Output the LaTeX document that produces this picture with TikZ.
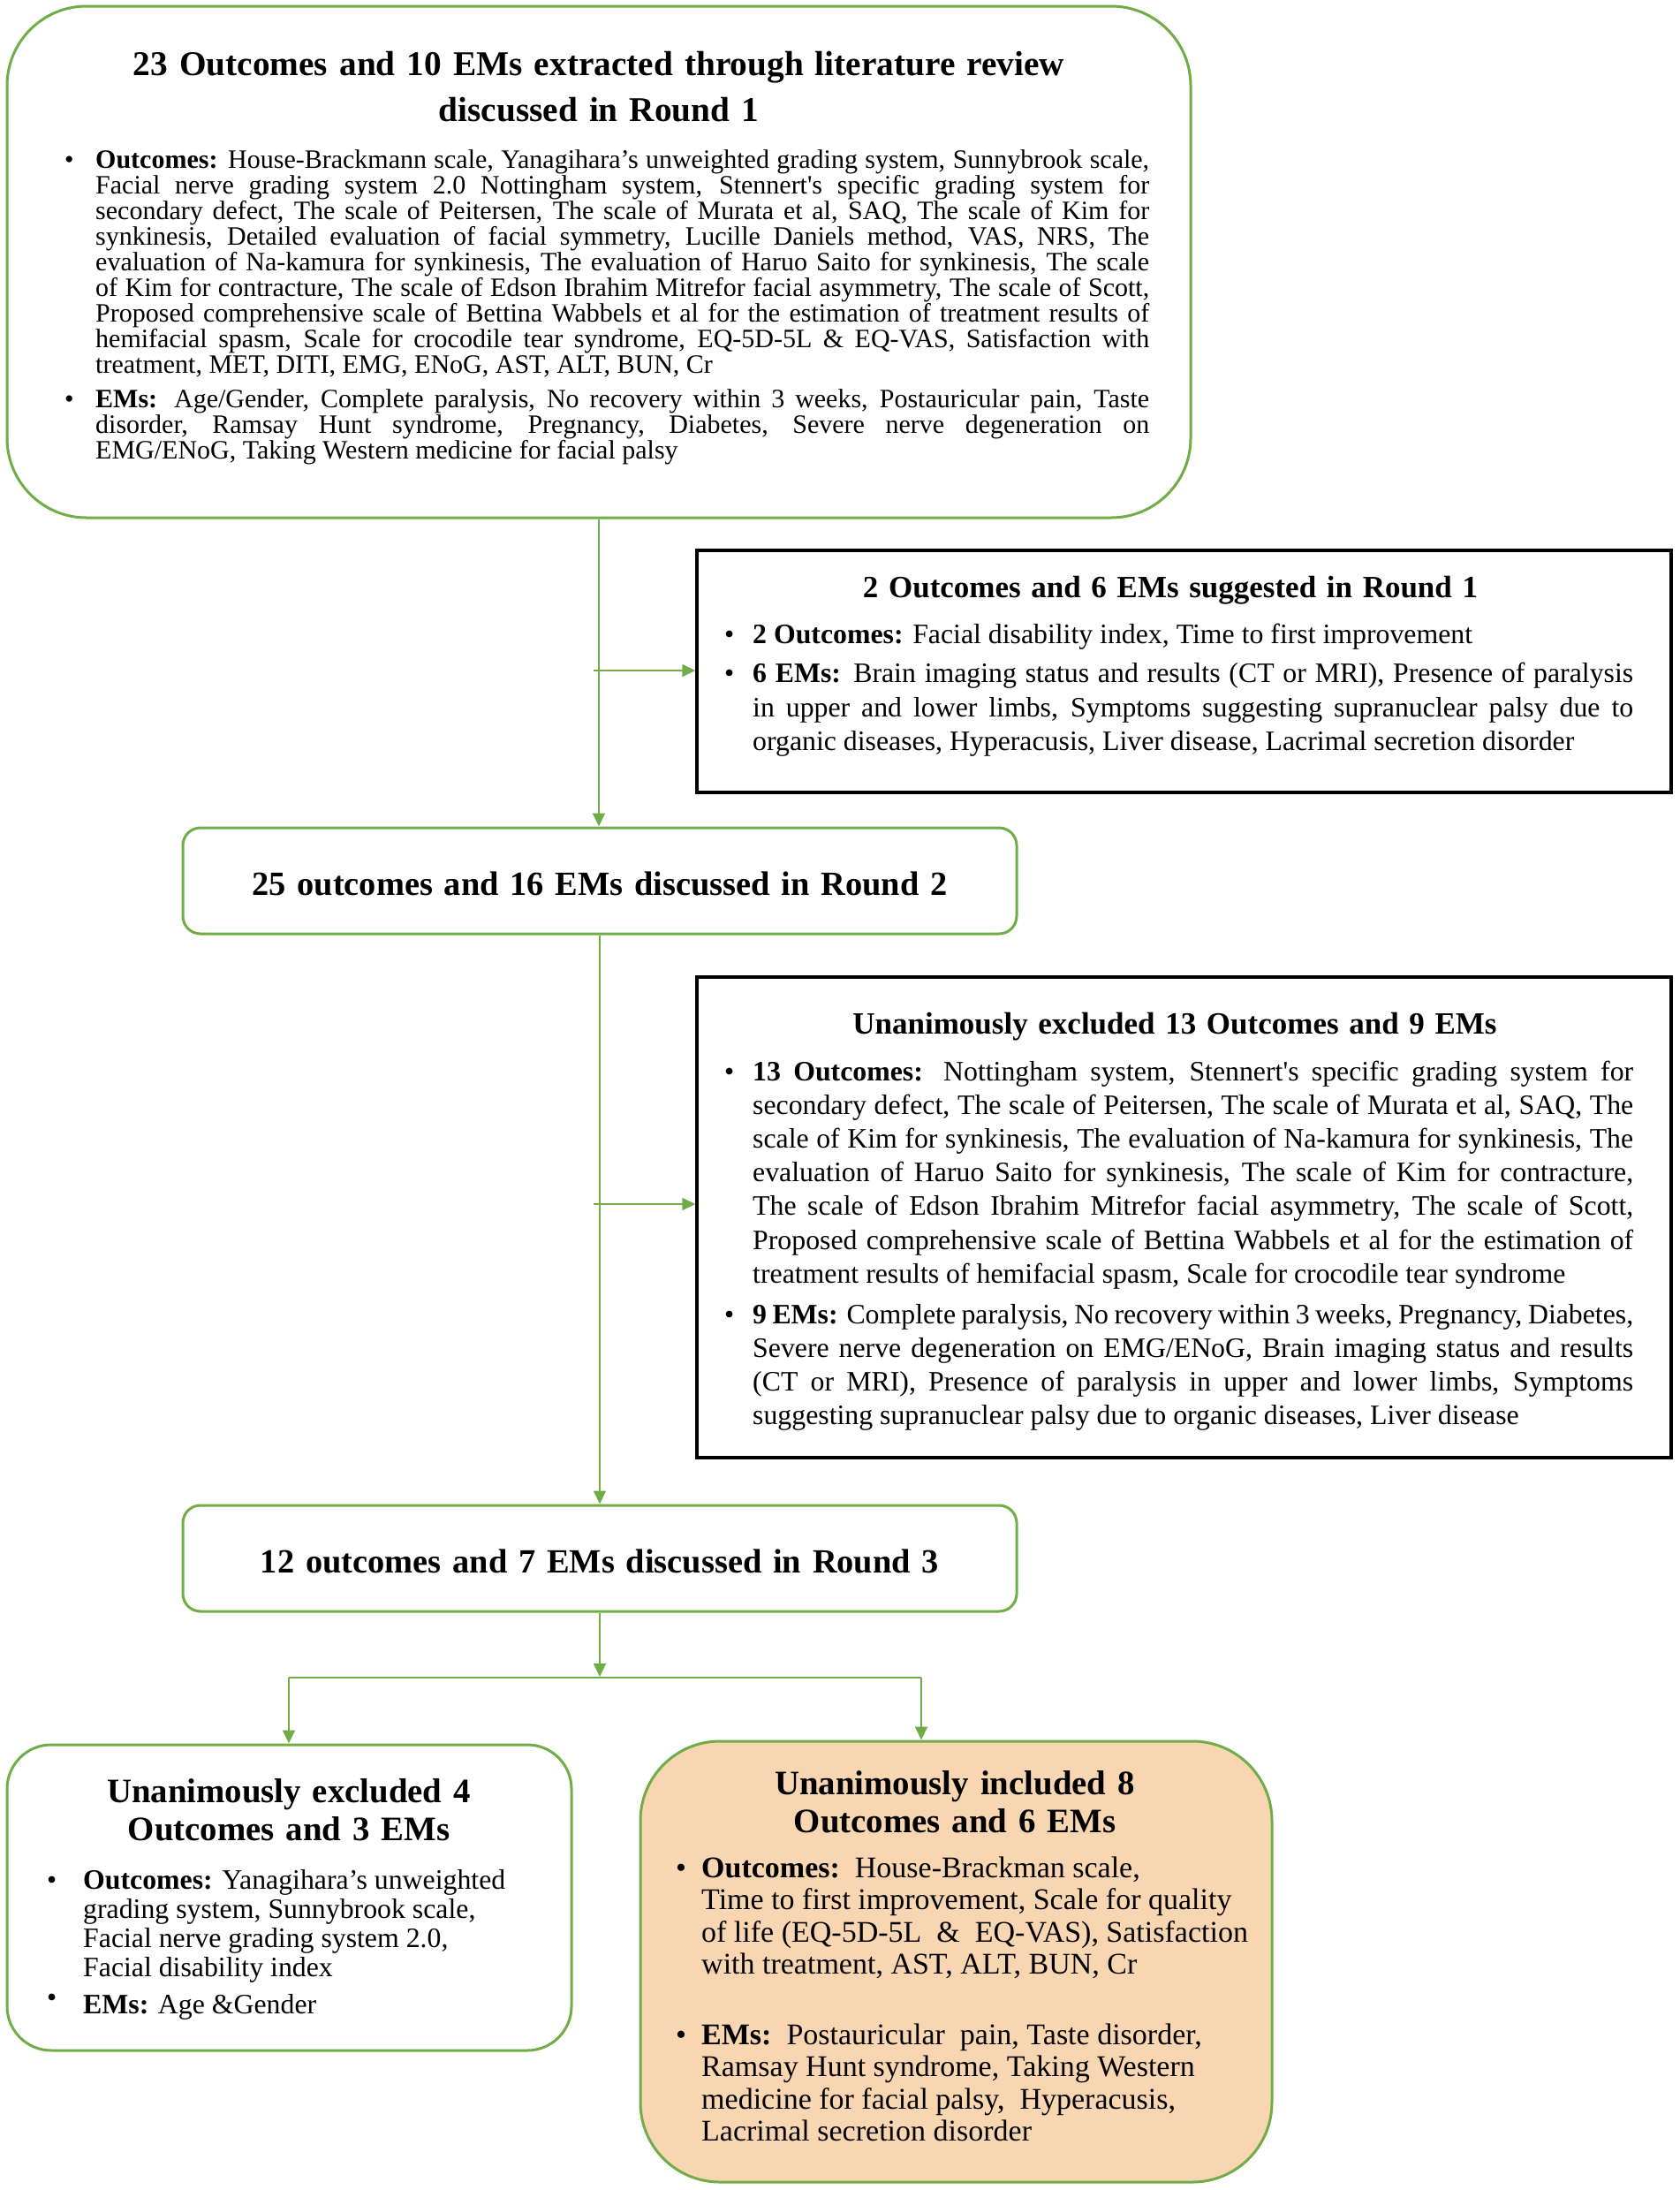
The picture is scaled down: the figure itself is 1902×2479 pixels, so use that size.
\documentclass[tikz,border=0pt]{standalone}
\usepackage{fontspec}
\setmainfont{Liberation Serif}
\usetikzlibrary{arrows.meta}
\definecolor{grn}{HTML}{70AD47}
\definecolor{peach}{HTML}{F8D6B2}
\tolerance=10000
\hyphenpenalty=10000
\exhyphenpenalty=10000
\newcommand\bul[1]{\makebox[#1][l]{\textbullet}}
\tikzset{
  gbox/.style={draw=grn, line width=3pt, rounded corners=#1, inner sep=0pt},
  kbox/.style={draw=black, line width=3.5pt, inner sep=0pt},
  conn/.style={draw=grn, line width=1.8pt, -{Triangle[length=15pt,width=14pt]}},
  gline/.style={draw=grn, line width=1.8pt},
  ttl/.style={inner sep=0pt, anchor=base, align=center, text width=#1},
  txt/.style={inner sep=0pt, anchor=base west, align=justify, text width=#1},
}
\begin{document}
\begin{tikzpicture}[x=1pt,y=-1pt]
\useasboundingbox (0,0) rectangle (1902,2479);
% ---------- boxes
\node[gbox=90pt, minimum width=1340pt, minimum height=579pt] (top) at (678,296.5) {};
\node[kbox, minimum width=1103pt, minimum height=274pt] (sug) at (1340.5,760) {};
\node[gbox=20pt, minimum width=944pt, minimum height=120pt] (r2) at (679,997) {};
\node[kbox, minimum width=1103pt, minimum height=544pt] (exc) at (1340.5,1378) {};
\node[gbox=20pt, minimum width=944pt, minimum height=120pt] (r3) at (679,1764) {};
\node[gbox=50pt, minimum width=639pt, minimum height=346pt] (ex4) at (327.5,2148) {};
\node[gbox=90pt, fill=peach, minimum width=715pt, minimum height=499pt] (in8) at (1082.5,2220.5) {};
% ---------- top box text
\node[ttl=1300pt, font=\fontsize{39.3}{52}\selectfont\bfseries] (tt) at (678,85)
  {23 Outcomes and 10 EMs extracted through literature review\\ discussed in Round 1};
\node[txt=1228pt] (tb) at (73,190) {\fontsize{30}{29}\selectfont
\noindent\hangindent=35pt\hangafter=1\bul{35pt}\textbf{Outcomes:} House-Brackmann scale, Yanagihara's unweighted grading system, Sunnybrook scale,\linebreak
Facial nerve grading system 2.0 Nottingham system, Stennert\textquotesingle s specific grading system for\linebreak
secondary defect, The scale of Peitersen, The scale of Murata et al, SAQ, The scale of Kim for\linebreak
synkinesis, Detailed evaluation of facial symmetry, Lucille Daniels method, VAS, NRS, The\linebreak
evaluation of Na-kamura for synkinesis, The evaluation of Haruo Saito for synkinesis, The scale\linebreak
of Kim for contracture, The scale of Edson Ibrahim Mitrefor facial asymmetry, The scale of Scott,\linebreak
Proposed comprehensive scale of Bettina Wabbels et al for the estimation of treatment results of\linebreak
hemifacial spasm, Scale for crocodile tear syndrome, EQ-5D-5L \& EQ-VAS, Satisfaction with\linebreak
treatment, MET, DITI, EMG, ENoG, AST, ALT, BUN, Cr\par
\vspace{10pt}
\noindent\hangindent=35pt\hangafter=1\bul{35pt}\textbf{EMs:} Age/Gender, Complete paralysis, No recovery within 3 weeks, Postauricular pain, Taste\linebreak
disorder, Ramsay Hunt syndrome, Pregnancy, Diabetes, Severe nerve degeneration on\linebreak
EMG/ENoG, Taking Western medicine for facial palsy\par};
% ---------- suggested box text
\node[ttl=1000pt, font=\fontsize{35}{43}\selectfont\bfseries] (st) at (1325,676)
  {2 Outcomes and 6 EMs suggested in Round 1};
\node[txt=1029pt] (sb) at (820,728) {\fontsize{31.8}{38.3}\selectfont
\noindent\hangindent=32pt\hangafter=1\bul{32pt}\textbf{2 Outcomes:} Facial disability index, Time to first improvement\par
\vspace{6.5pt}
\noindent\hangindent=32pt\hangafter=1\bul{32pt}\textbf{6 EMs:} Brain imaging status and results (CT or MRI), Presence of paralysis\linebreak
in upper and lower limbs, Symptoms suggesting supranuclear palsy due to\linebreak
organic diseases, Hyperacusis, Liver disease, Lacrimal secretion disorder\par};
% ---------- round 2
\node[ttl=940pt, font=\fontsize{38.4}{48}\selectfont\bfseries] (r2t) at (679,1013)
  {25 outcomes and 16 EMs discussed in Round 2};
% ---------- excluded 13 box text
\node[ttl=1000pt, font=\fontsize{35}{43}\selectfont\bfseries] (et) at (1330,1170)
  {Unanimously excluded 13 Outcomes and 9 EMs};
\node[txt=1029pt] (eb) at (820,1223) {\fontsize{31.8}{38.2}\selectfont
\noindent\hangindent=32pt\hangafter=1\bul{32pt}\textbf{13 Outcomes:} Nottingham system, Stennert\textquotesingle s specific grading system for\linebreak
secondary defect, The scale of Peitersen, The scale of Murata et al, SAQ, The\linebreak
scale of Kim for synkinesis, The evaluation of Na-kamura for synkinesis, The\linebreak
evaluation of Haruo Saito for synkinesis, The scale of Kim for contracture,\linebreak
The scale of Edson Ibrahim Mitrefor facial asymmetry, The scale of Scott,\linebreak
Proposed comprehensive scale of Bettina Wabbels et al for the estimation of\linebreak
treatment results of hemifacial spasm, Scale for crocodile tear syndrome\par
\vspace{7.8pt}
\noindent\hangindent=32pt\hangafter=1\bul{32pt}\textbf{9 EMs:} Complete paralysis, No recovery within 3 weeks, Pregnancy, Diabetes,\linebreak
Severe nerve degeneration on EMG/ENoG, Brain imaging status and results\linebreak
(CT or MRI), Presence of paralysis in upper and lower limbs, Symptoms\linebreak
suggesting supranuclear palsy due to organic diseases, Liver disease\par};
% ---------- round 3
\node[ttl=940pt, font=\fontsize{38.4}{48}\selectfont\bfseries] (r3t) at (679,1780)
  {12 outcomes and 7 EMs discussed in Round 3};
% ---------- excluded 4
\node[ttl=620pt, font=\fontsize{38.8}{43}\selectfont\bfseries] (x4t) at (327,2040)
  {Unanimously excluded 4\\ Outcomes and 3 EMs};
\node[txt=600pt] (x4b) at (53,2138) {\fontsize{31.8}{33.3}\selectfont
\noindent\hangindent=41pt\hangafter=1\bul{41pt}\textbf{Outcomes:} Yanagihara's unweighted\newline
grading system, Sunnybrook scale,\newline
Facial nerve grading system 2.0,\newline
Facial disability index\par
\vspace{8.7pt}
\noindent\makebox[41pt][l]{\raisebox{8pt}{\textbullet}}\textbf{EMs:} Age \&Gender\par};
% ---------- included 8
\node[ttl=700pt, font=\fontsize{38.8}{43}\selectfont\bfseries] (i8t) at (1081,2031)
  {Unanimously included 8\\ Outcomes and 6 EMs};
\node[txt=720pt] (i8b) at (765,2125) {\fontsize{34}{36.5}\selectfont
\noindent\hangindent=29pt\hangafter=1\bul{29pt}\textbf{Outcomes:}\ \ House-Brackman scale,\newline
Time to first improvement, Scale for quality\newline
of life (EQ-5D-5L\ \ \&\ \ EQ-VAS), Satisfaction\newline
with treatment, AST, ALT, BUN, Cr\par
\vspace{43pt}
\noindent\hangindent=29pt\hangafter=1\bul{29pt}\textbf{EMs:}\ \ Postauricular\ \ pain, Taste disorder,\newline
Ramsay Hunt syndrome, Taking Western\newline
medicine for facial palsy,\ \ Hyperacusis,\newline
Lacrimal secretion disorder\par};
% ---------- connectors
\draw[conn] (top.south) -- (top.south |- r2.north);
\coordinate (a1) at (672,759);
\draw[conn] (a1) -- (a1 -| sug.west);
\draw[conn] (r2.south) -- (r2.south |- r3.north);
\coordinate (a2) at (672,1363);
\draw[conn] (a2) -- (a2 -| exc.west);
\coordinate (j) at (679,1898);
\draw[conn] (r3.south) -- (j);
\coordinate (jl) at (327,1899);
\coordinate (jr) at (1043,1899);
\draw[gline] (jl) -- (jr);
\draw[conn] (jl) -- (jl |- ex4.north);
\draw[conn] (jr) -- (jr |- in8.north);
\end{tikzpicture}
\end{document}
